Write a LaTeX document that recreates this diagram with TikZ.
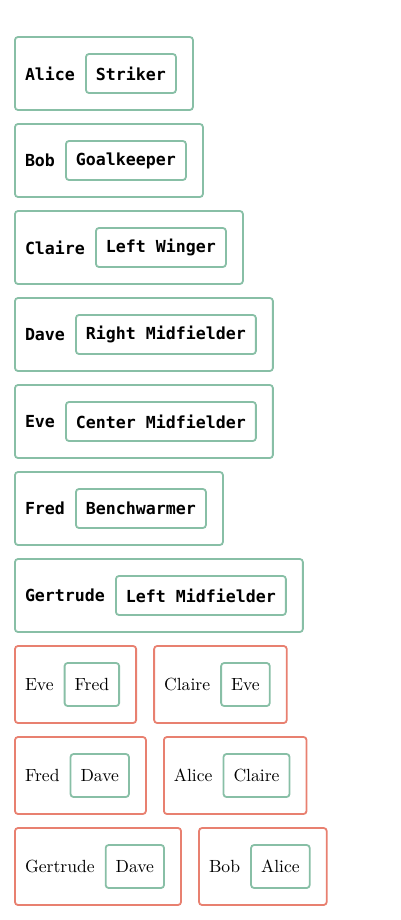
\documentclass[tikz,border=0pt]{standalone}
\usepackage{fontspec}
\setmonofont{DejaVu Sans Mono}
\newfontfamily\guestfont{lmroman10-regular}[Extension=.otf]
\usetikzlibrary{
  positioning,
  fit
}
\definecolor{squad}{RGB}{136,191,166}
\definecolor{swap}{RGB}{232,128,112}

\begin{document}
\begin{tikzpicture}[
  x=1pt, y=-1pt,
  every node/.style={inner sep=0pt, outer sep=0pt},
  player/.style={anchor=west, font=\ttfamily\bfseries\fontsize{16.6}{20}\selectfont},
  position/.style={draw=squad, line width=1.8pt, rounded corners=3pt,
                   inner xsep=10pt, minimum height=39pt,
                   font=\ttfamily\bfseries\fontsize{16.6}{20}\selectfont},
  card/.style={draw=squad, line width=1.8pt, rounded corners=3pt,
               inner xsep=10pt, inner ysep=17pt},
  guest/.style={anchor=west, font=\guestfont\fontsize{17.6}{20}\selectfont},
  partner/.style={draw=squad, line width=1.8pt, rounded corners=3pt,
                  inner xsep=10pt, minimum height=43pt,
                  font=\guestfont\fontsize{17.6}{20}\selectfont},
  pairbox/.style={draw=swap, line width=1.8pt, rounded corners=3pt,
                  inner xsep=10pt, inner ysep=17pt},
]
\useasboundingbox (0,0) rectangle (400,920);

% squad: player and position
\node[player] (n1) at (25,73.5) {Alice};
\node[position, right=11pt of n1] (r1) {Striker};
\node[card, fit={(n1) (r1) ([xshift=7pt]r1.east)}] (c1) {};

\node[player] (n2) at (25,160.5) {Bob};
\node[position, right=11pt of n2] (r2) {Goalkeeper};
\node[card, fit={(n2) (r2) ([xshift=7pt]r2.east)}] (c2) {};

\node[player] (n3) at (25,247.5) {Claire};
\node[position, right=11pt of n3] (r3) {Left Winger};
\node[card, fit={(n3) (r3) ([xshift=7pt]r3.east)}] (c3) {};

\node[player] (n4) at (25,334.5) {Dave};
\node[position, right=11pt of n4] (r4) {Right Midfielder};
\node[card, fit={(n4) (r4) ([xshift=7pt]r4.east)}] (c4) {};

\node[player] (n5) at (25,421.5) {Eve};
\node[position, right=11pt of n5] (r5) {Center Midfielder};
\node[card, fit={(n5) (r5) ([xshift=7pt]r5.east)}] (c5) {};

\node[player] (n6) at (25,508.5) {Fred};
\node[position, right=11pt of n6] (r6) {Benchwarmer};
\node[card, fit={(n6) (r6) ([xshift=7pt]r6.east)}] (c6) {};

\node[player] (n7) at (25,595.5) {Gertrude};
\node[position, right=11pt of n7] (r7) {Left Midfielder};
\node[card, fit={(n7) (r7) ([xshift=7pt]r7.east)}] (c7) {};

% pairs
\node[guest] (m1) at (25,684.5) {Eve};
\node[partner, right=11pt of m1] (q1) {Fred};
\node[pairbox, fit={(m1) (q1) ([xshift=7pt]q1.east)}] (g1) {};
\node[guest, right=28pt of g1] (m2) {Claire};
\node[partner, right=11pt of m2] (q2) {Eve};
\node[pairbox, fit={(m2) (q2) ([xshift=7pt]q2.east)}] (g2) {};

\node[guest] (m3) at (25,775.5) {Fred};
\node[partner, right=11pt of m3] (q3) {Dave};
\node[pairbox, fit={(m3) (q3) ([xshift=7pt]q3.east)}] (g3) {};
\node[guest, right=28pt of g3] (m4) {Alice};
\node[partner, right=11pt of m4] (q4) {Claire};
\node[pairbox, fit={(m4) (q4) ([xshift=7pt]q4.east)}] (g4) {};

\node[guest] (m5) at (25,866.5) {Gertrude};
\node[partner, right=11pt of m5] (q5) {Dave};
\node[pairbox, fit={(m5) (q5) ([xshift=7pt]q5.east)}] (g5) {};
\node[guest, right=28pt of g5] (m6) {Bob};
\node[partner, right=11pt of m6] (q6) {Alice};
\node[pairbox, fit={(m6) (q6) ([xshift=7pt]q6.east)}] (g6) {};

\end{tikzpicture}
\end{document}
